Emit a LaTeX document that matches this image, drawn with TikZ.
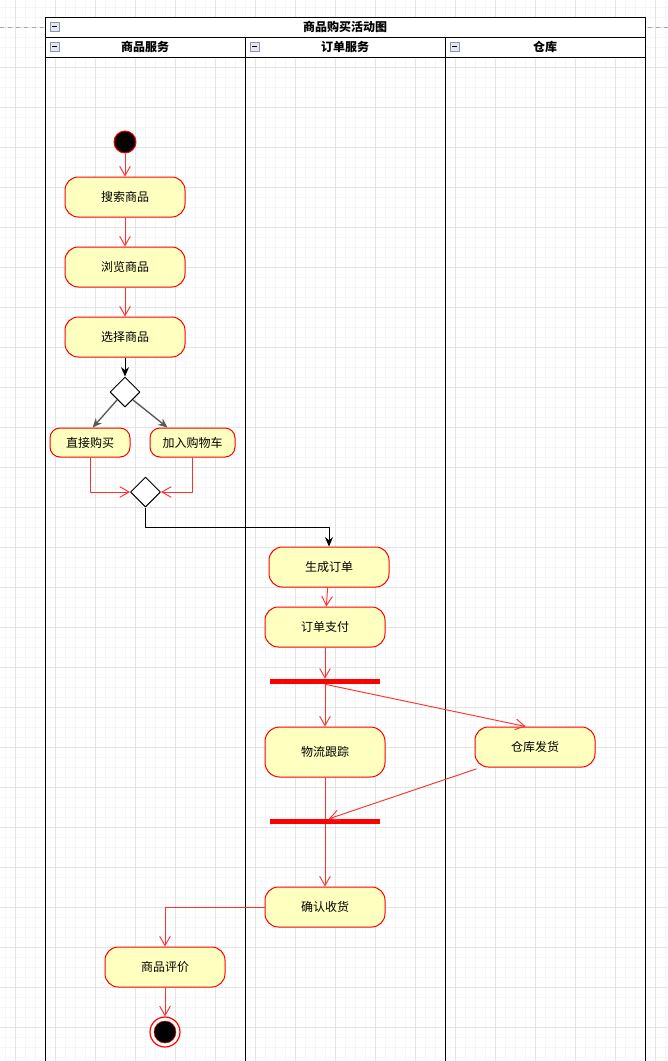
\documentclass[tikz,border=0pt]{standalone}
\usepackage{fontspec}
\setmainfont{Noto Sans CJK SC}
\usetikzlibrary{shapes.geometric,arrows.meta}

\definecolor{actfill}{HTML}{FFFFC0}
\definecolor{flowred}{HTML}{FF3030}
\definecolor{gridmajor}{HTML}{E4E4E4}
\definecolor{gridminor}{HTML}{F6F6F6}
\definecolor{iconedge}{HTML}{8C96A8}
\definecolor{iconfill}{HTML}{E4E8EE}

\begin{document}
\begin{tikzpicture}[x=0.75pt, y=-0.75pt, line join=round, font=\fontsize{9}{11}\selectfont,
	act/.style={draw=red, line width=0.75pt, fill=actfill, rounded corners=10pt, minimum width=90pt, minimum height=30pt, inner sep=0pt},
	smallact/.style={act, rounded corners=7.5pt, minimum width=60pt, minimum height=21.75pt},
	dec/.style={diamond, draw=black, line width=0.75pt, fill=white, minimum width=22.5pt, minimum height=22.5pt, inner sep=0pt},
	startst/.style={circle, draw=red, line width=0.75pt, fill=black, minimum size=16.5pt, inner sep=0pt},
	endst/.style={circle, draw=red, fill=white, line width=0.9pt, minimum size=22.5pt, inner sep=0pt},
	bar/.style={fill=red, minimum width=82.5pt, minimum height=3.75pt, inner sep=0pt},
	flow/.style={draw=flowred, line width=0.7pt, -{Straight Barb[length=7pt,width=8pt]}},
	blk/.style={draw=black, line width=0.7pt, -{Stealth[length=7pt,width=6pt]}},
	gry/.style={draw=black!65, line width=1pt, -{Stealth[length=7pt,width=6pt]}},
	head/.style={font=\fontsize{9}{11}\selectfont\bfseries}]
	\useasboundingbox (0,0) rectangle (668,1061);

	% 1. Lưới nền
	\fill[white] (0,0) rectangle (668,1061);
	\foreach \x in {5.5,15.5,...,665.5} {
		\draw[gridminor, line width=0.75pt] (\x,0) -- (\x,1061);
	}
	\foreach \y in {7.3,17.3,...,1057.3} {
		\draw[gridminor, line width=0.75pt] (0,\y) -- (668,\y);
	}
	\foreach \x in {15.5,55.5,...,655.5} {
		\draw[gridmajor, line width=0.75pt] (\x,0) -- (\x,1061);
	}
	\foreach \y in {27.3,67.3,...,1027.3} {
		\draw[gridmajor, line width=0.75pt] (0,\y) -- (668,\y);
	}
	\draw[gray!70, dashed, line width=0.75pt] (0,27) -- (668,27);

	% 2. Khung và làn
	\fill[white] (45,17) rectangle (645,57);
	\draw[line width=0.75pt] (45,1070) -- (45,17) -- (645,17) -- (645,1070);
	\draw[line width=0.75pt] (45,37) -- (645,37);
	\draw[line width=0.75pt] (45,57) -- (645,57);
	\foreach \x in {245,445} {
		\draw[line width=0.75pt] (\x,37) -- (\x,1070);
	}
	\foreach \x/\y in {54.5/26.5, 54.5/46.5, 254.5/46.5, 454.5/46.5} {
		\draw[iconedge, fill=iconfill, line width=0.6pt] (\x-4.5,\y-4.5) rectangle (\x+4.5,\y+4.5);
		\draw[black, line width=0.9pt] (\x-2.5,\y) -- (\x+2.5,\y);
	}
	\node[head] (title) at (345,27) {商品购买活动图};
	\node[head] (lane1) at (145,47) {商品服务};
	\node[head] (lane2) at (345,47) {订单服务};
	\node[head] (lane3) at (545,47) {仓库};

	% 3. Nút hoạt động
	\node[startst] (start) at (125,142) {};
	\node[act] (search) at (125,197) {搜索商品};
	\node[act] (browse) at (125,267) {浏览商品};
	\node[act] (choose) at (125,337) {选择商品};
	\node[dec] (split) at (125,392) {};
	\node[smallact] (buy) at (90,442.5) {直接购买};
	\node[smallact, minimum width=63.75pt] (cart) at (192.5,442.5) {加入购物车};
	\node[dec] (merge) at (145.5,492) {};
	\node[act] (order) at (329,567) {生成订单};
	\node[act] (pay) at (325,627) {订单支付};
	\node[bar] (fork) at (325,681.5) {};
	\node[act, minimum height=37.5pt, rounded corners=11pt] (track) at (325,752) {物流跟踪};
	\node[act] (ship) at (535,747) {仓库发货};
	\node[bar] (join) at (325,821.5) {};
	\node[act] (confirm) at (325,907) {确认收货};
	\node[act] (review) at (165,967) {商品评价};
	\node[endst] (end) at (165,1032) {};
	\fill[black, draw=red, line width=0.4pt] (end) circle (8.25pt);

	% 4. Luồng
	\draw[flow] (start) -- (search);
	\draw[flow] (search) -- (browse);
	\draw[flow] (browse) -- (choose);
	\draw[blk] (choose) -- (split);
	\draw[gry] (split.south west) -- ([xshift=2pt]buy.north);
	\draw[gry] (split.south east) -- ([xshift=13.5pt]cart.north west);
	\draw[flow] (buy.south) |- (merge.west);
	\draw[flow] (cart.south) |- (merge.east);
	\draw[blk] (merge.south) -- ++(0,20) -| (order.north);
	\draw[flow] (order) -- (pay);
	\draw[flow] (pay) -- (fork.north);
	\draw[flow] (fork.south) -- (track.north);
	\draw[flow] (fork.south) -- ([xshift=-7pt]ship.north);
	\draw[flowred, line width=0.7pt] (track.south) -- (join.north);
	\draw[flow] ([xshift=1.5pt,yshift=-1pt]ship.south west) -- ([xshift=3pt]join.north);
	\draw[flow] (join.south) -- (confirm.north);
	\draw[flow] (confirm.west) -| (review.north);
	\draw[flow] (review) -- (end);
\end{tikzpicture}
\end{document}
